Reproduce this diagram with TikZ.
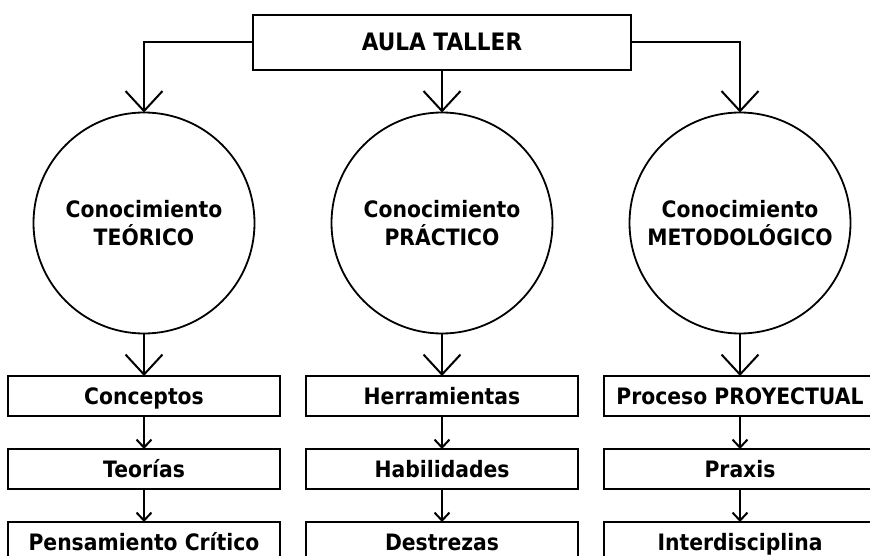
\documentclass[tikz,border=0pt]{standalone}
\usepackage{fontspec}
\setmainfont{DejaVu Sans}[FakeStretch=0.9]
\usetikzlibrary{positioning}
\usetikzlibrary{arrows.meta}

\begin{document}
\begin{tikzpicture}[x=1pt, y=1pt, line width=2pt,
    every node/.style={font=\fontsize{22.6}{28}\selectfont\bfseries, outer sep=0pt},
    box/.style={rectangle, draw=black, line width=2.3pt, minimum width=272pt, minimum height=40pt, inner sep=0pt, text height=21pt, text depth=5pt},
    know/.style={circle, draw=black, line width=1.8pt, minimum size=221pt, inner sep=0pt, align=center},
    bigarrow/.style={-{Straight Barb[length=20pt, width=37pt]}},
    smallarrow/.style={-{Straight Barb[length=8pt, width=15pt]}}]
	  \useasboundingbox (0,0) rectangle (870,-556);
	  \node[box, minimum width=378pt, minimum height=55pt, font=\fontsize{24}{28}\selectfont\bfseries] (taller) at (442,-42.5) {AULA TALLER};
	  \node[know, below=42.5pt of taller] (practico) {Conocimiento\\PRÁCTICO};
	  \node[know, left=77pt of practico] (teorico) {Conocimiento\\TEÓRICO};
	  \node[know, right=77pt of practico] (metodo) {Conocimiento\\METODOLÓGICO};
	  \node[box, below=42.5pt of teorico] (conceptos) {Conceptos};
	  \node[box, below=33pt of conceptos] (teorias) {Teorías};
	  \node[box, below=33pt of teorias] (critico) {Pensamiento Crítico};
	  \node[box, below=42.5pt of practico] (herramientas) {Herramientas};
	  \node[box, below=33pt of herramientas] (habilidades) {Habilidades};
	  \node[box, below=33pt of habilidades] (destrezas) {Destrezas};
	  \node[box, below=42.5pt of metodo] (proceso) {Proceso PROYECTUAL};
	  \node[box, below=33pt of proceso] (praxis) {Praxis};
	  \node[box, below=33pt of praxis] (inter) {Interdisciplina};
	  \draw[bigarrow] (taller.west) -| (teorico.north);
	  \draw[bigarrow] (taller) -- (practico);
	  \draw[bigarrow] (taller.east) -| (metodo.north);
	  \draw[bigarrow] (teorico) -- (conceptos);
	  \draw[bigarrow] (practico) -- (herramientas);
	  \draw[bigarrow] (metodo) -- (proceso);
	  \draw[smallarrow] (conceptos) -- (teorias);
	  \draw[smallarrow] (teorias) -- (critico);
	  \draw[smallarrow] (herramientas) -- (habilidades);
	  \draw[smallarrow] (habilidades) -- (destrezas);
	  \draw[smallarrow] (proceso) -- (praxis);
	  \draw[smallarrow] (praxis) -- (inter);
	\end{tikzpicture}
\end{document}
